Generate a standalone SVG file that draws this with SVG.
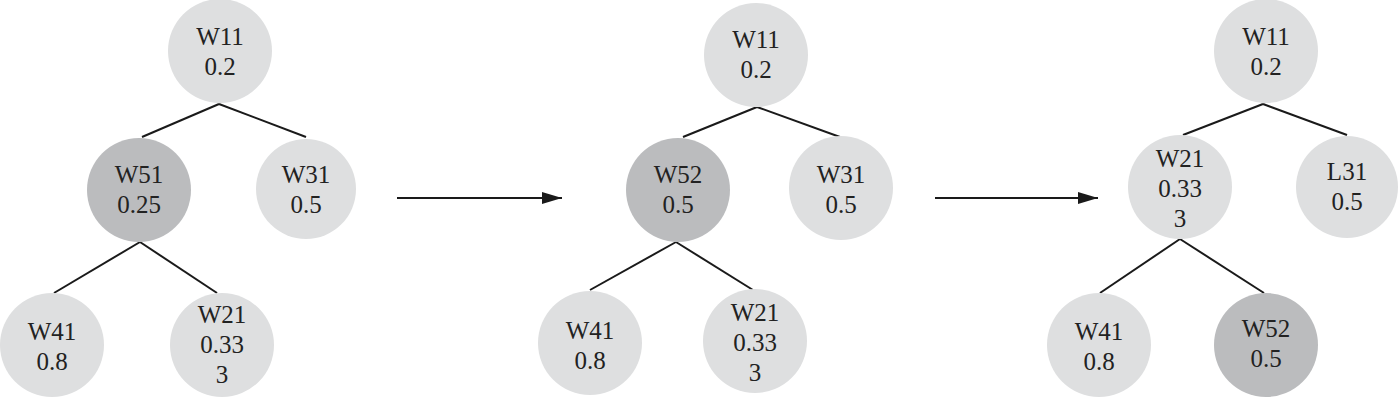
<svg xmlns="http://www.w3.org/2000/svg" width="1400" height="408" viewBox="0 0 1400 408">
<style>
.n{fill:#dedfe0}
.d{fill:#bbbcbe}
text{font-family:"Liberation Serif","Times New Roman",serif;font-size:25px;fill:#222;text-anchor:middle}
.e{stroke:#1a1a1a;stroke-width:2;fill:none}
.a{stroke:#1a1a1a;stroke-width:2.2;fill:none}
</style>
<defs>
<marker id="ah2" markerWidth="20" markerHeight="12" refX="20" refY="6" orient="auto" markerUnits="userSpaceOnUse" viewBox="0 0 20 12">
<path d="M0,0 L20,6 L0,12 Z" fill="#1a1a1a"/>
</marker>
</defs>
<g id="connectors">
<line class="e" x1="219" y1="104" x2="142" y2="137"/>
<line class="e" x1="219" y1="104" x2="306" y2="137"/>
<line class="e" x1="140" y1="242" x2="54" y2="293"/>
<line class="e" x1="140" y1="242" x2="217" y2="293"/>
<line class="e" x1="757" y1="107" x2="683" y2="137"/>
<line class="e" x1="757" y1="107" x2="840" y2="137"/>
<line class="e" x1="676" y1="242" x2="590" y2="290"/>
<line class="e" x1="676" y1="242" x2="753" y2="290"/>
<line class="e" x1="1263" y1="104" x2="1183" y2="135"/>
<line class="e" x1="1263" y1="104" x2="1347" y2="135"/>
<line class="e" x1="1180" y1="239" x2="1100" y2="293"/>
<line class="e" x1="1180" y1="239" x2="1264" y2="293"/>
<line class="a" x1="397" y1="198" x2="562" y2="198" marker-end="url(#ah2)"/>
<line class="a" x1="935" y1="198" x2="1098" y2="198" marker-end="url(#ah2)"/>
</g>
<g id="t1_w11"><circle class="n" cx="220" cy="51" r="52"/><text x="220" y="45">W11</text><text x="220" y="75">0.2</text></g>
<g id="t1_w51"><circle class="d" cx="139" cy="190" r="52"/><text x="139" y="183">W51</text><text x="139" y="213">0.25</text></g>
<g id="t1_w31"><circle class="n" cx="306" cy="189" r="50"/><text x="306" y="183">W31</text><text x="306" y="213">0.5</text></g>
<g id="t1_w41"><circle class="n" cx="52" cy="345" r="52"/><text x="52" y="340">W41</text><text x="52" y="370">0.8</text></g>
<g id="t1_w21"><circle class="n" cx="222" cy="345" r="52"/><text x="222" y="323">W21</text><text x="222" y="353">0.33</text><text x="222" y="383">3</text></g>
<g id="t2_w11"><circle class="n" cx="756" cy="55" r="52"/><text x="756" y="48">W11</text><text x="756" y="78">0.2</text></g>
<g id="t2_w52"><circle class="d" cx="678" cy="190" r="52"/><text x="678" y="183">W52</text><text x="678" y="213">0.5</text></g>
<g id="t2_w31"><circle class="n" cx="841" cy="188" r="52"/><text x="841" y="183">W31</text><text x="841" y="213">0.5</text></g>
<g id="t2_w41"><circle class="n" cx="590" cy="343" r="52"/><text x="590" y="339">W41</text><text x="590" y="369">0.8</text></g>
<g id="t2_w21"><circle class="n" cx="755" cy="341" r="52"/><text x="755" y="321">W21</text><text x="755" y="351">0.33</text><text x="755" y="381">3</text></g>
<g id="t3_w11"><circle class="n" cx="1266" cy="51" r="52"/><text x="1266" y="45">W11</text><text x="1266" y="75">0.2</text></g>
<g id="t3_w21"><circle class="n" cx="1180" cy="187" r="52"/><text x="1180" y="167">W21</text><text x="1180" y="197">0.33</text><text x="1180" y="227">3</text></g>
<g id="t3_l31"><circle class="n" cx="1347" cy="187" r="51"/><text x="1347" y="180">L31</text><text x="1347" y="210">0.5</text></g>
<g id="t3_w41"><circle class="n" cx="1099" cy="345" r="52"/><text x="1099" y="340">W41</text><text x="1099" y="370">0.8</text></g>
<g id="t3_w52"><circle class="d" cx="1266" cy="345" r="52"/><text x="1266" y="337">W52</text><text x="1266" y="367">0.5</text></g>
</svg>
